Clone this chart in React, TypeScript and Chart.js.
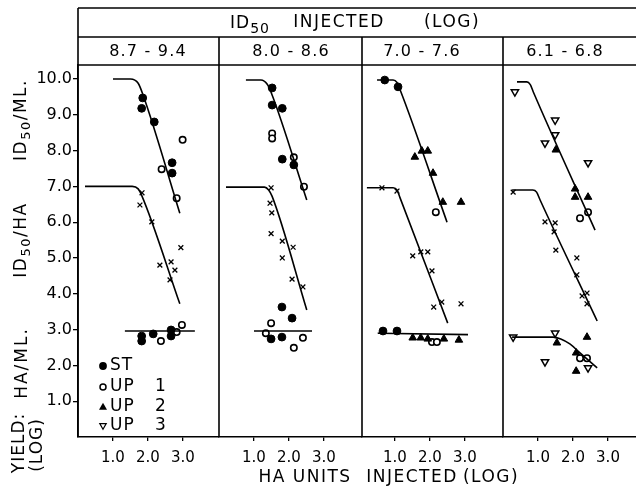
import React, { useEffect, useRef } from 'react';
import { Chart, registerables } from 'chart.js';

Chart.register(...registerables);

// ---------- labels ----------
const headerWords = ['INJECTED', '(LOG)'];
const panelRanges = ['8.7 - 9.4', '8.0 - 8.6', '7.0 - 7.6', '6.1 - 6.8'];
const xTickValues = [1, 2, 3];
const yTickValues = [1, 2, 3, 4, 5, 6, 7, 8, 9, 10];
const legendLabels = ['ST', 'UP 1', 'UP 2', 'UP 3'];

// ---------- panel 1 (8.7 - 9.4) ----------
const p1FitML = [[1.0, 10.0], [1.5, 10.0], [1.72, 9.88], [1.86, 9.55], [2.91, 6.25]];
const p1FitHA = [[0.2, 7.0], [1.55, 7.0], [1.72, 6.93], [1.82, 6.75], [2.91, 3.72]];
const p1FitYield = [[1.34, 2.96], [3.34, 2.96]];
const p1StML = [[1.85, 9.47], [1.82, 9.18], [2.18, 8.8], [2.69, 7.66], [2.69, 7.37]];
const p1Up1ML = [[2.39, 7.48], [2.82, 6.67], [2.99, 8.3]];
const p1CrossHA = [[1.83, 6.82], [1.77, 6.48], [2.11, 6.01], [2.94, 5.29], [2.34, 4.8], [2.66, 4.89], [2.77, 4.66], [2.63, 4.39]];
const p1StYield = [[1.82, 2.82], [1.82, 2.68], [2.15, 2.88], [2.66, 2.99], [2.66, 2.82]];
const p1Up1Yield = [[2.37, 2.68], [2.82, 2.93], [2.97, 3.13]];

// ---------- panel 2 (8.0 - 8.6) ----------
const p2FitML = [[0.77, 9.97], [1.2, 9.97], [1.38, 9.85], [1.5, 9.6], [2.51, 6.62]];
const p2FitHA = [[0.2, 6.98], [1.3, 6.98], [1.42, 6.9], [1.52, 6.72], [2.51, 3.55]];
const p2FitYield = [[1.0, 2.96], [2.66, 2.96]];
const p2StML = [[1.52, 9.75], [1.52, 9.27], [1.81, 9.18], [1.81, 7.76], [2.14, 7.6]];
const p2Up1ML = [[1.52, 8.48], [1.52, 8.34], [2.14, 7.81], [2.43, 6.99]];
const p2CrossHA = [[1.49, 6.96], [1.46, 6.53], [1.51, 6.26], [1.49, 5.68], [1.81, 5.47], [2.12, 5.3], [1.81, 5.0], [2.09, 4.41], [2.4, 4.19]];
const p2StYield = [[1.49, 2.74], [1.8, 3.63], [1.8, 2.79], [2.09, 3.32]];
const p2Up1Yield = [[1.49, 3.18], [1.34, 2.9], [2.14, 2.49], [2.4, 2.77]];

// ---------- panel 3 (7.0 - 7.6) ----------
const p3FitML = [[0.49, 9.97], [0.95, 9.97], [1.06, 9.9], [1.14, 9.72], [2.49, 6.0]];
const p3FitHA = [[0.2, 6.96], [0.95, 6.96], [1.06, 6.9], [1.14, 6.7], [2.51, 3.18]];
const p3FitYield = [[0.51, 2.9], [3.09, 2.86]];
const p3StML = [[0.71, 9.97], [1.09, 9.78]];
const p3Up2ML = [[1.57, 7.82], [1.77, 7.99], [1.94, 7.99], [2.09, 7.37], [2.37, 6.56], [2.89, 6.56]];
const p3Up1ML = [[2.17, 6.28]];
const p3CrossHA = [[0.63, 6.96], [1.06, 6.87], [1.51, 5.06], [1.74, 5.17], [1.94, 5.17], [2.06, 4.64], [2.11, 3.63], [2.34, 3.77], [2.89, 3.72]];
const p3StYield = [[0.66, 2.96], [1.06, 2.96]];
const p3Up2Yield = [[1.51, 2.77], [1.74, 2.77], [1.94, 2.74], [2.4, 2.74], [2.83, 2.71]];
const p3Up1Yield = [[2.06, 2.65], [2.2, 2.65]];

// ---------- panel 4 (6.1 - 6.8) ----------
const p4FitML = [[0.4, 9.92], [0.68, 9.92], [0.78, 9.84], [0.86, 9.65], [2.63, 5.78]];
const p4FitHA = [[0.26, 6.9], [0.85, 6.9], [0.96, 6.84], [1.06, 6.62], [2.69, 3.24]];
const p4FitYield = [[0.26, 2.79], [1.43, 2.79], [1.65, 2.74], [1.91, 2.6], [2.2, 2.35], [2.69, 1.93]];
const p4Up3ML = [[0.34, 9.64], [1.49, 8.85], [1.49, 8.44], [1.2, 8.21], [2.43, 7.66]];
const p4Up2ML = [[1.51, 8.02], [2.06, 6.93], [2.06, 6.7], [2.43, 6.7]];
const p4Up1ML = [[2.43, 6.28], [2.2, 6.11]];
const p4CrossHA = [[0.29, 6.84], [1.2, 6.01], [1.49, 5.98], [1.46, 5.73], [1.51, 5.22], [2.11, 5.0], [2.11, 4.53], [2.26, 3.94], [2.4, 4.02], [2.4, 3.72]];
const p4Up3Yield = [[0.29, 2.79], [1.2, 2.1], [2.43, 1.93], [1.49, 2.9]];
const p4Up2Yield = [[1.54, 2.63], [2.09, 2.35], [2.4, 2.79], [2.09, 1.84]];
const p4Up1Yield = [[2.2, 2.2], [2.4, 2.2]];

// ---------- panel x-scale extents ----------
const panelWeights = [141, 143, 141, 133];
const panelMin = [0, 0, 0.06, 0];
const panelMax = [4.03, 4.09, 4.09, 3.8];

const FONT = '"DejaVu Sans", sans-serif';

const styles: Record<string, any> = {
  st: { pointStyle: 'circle', pointRadius: 3.9, pointBackgroundColor: '#000', pointBorderColor: '#000', pointBorderWidth: 1 },
  up1: { pointStyle: 'circle', pointRadius: 3.2, pointBackgroundColor: '#fff', pointBorderColor: '#000', pointBorderWidth: 1.6 },
  up2: { pointStyle: 'triangle', pointRadius: 4.4, pointBackgroundColor: '#000', pointBorderColor: '#000', pointBorderWidth: 1 },
  up3: { pointStyle: 'triangle', pointRotation: 180, pointRadius: 4.2, pointBackgroundColor: '#fff', pointBorderColor: '#000', pointBorderWidth: 1.5 },
  cross: { pointStyle: 'crossRot', pointRadius: 3.4, pointBackgroundColor: '#000', pointBorderColor: '#000', pointBorderWidth: 1.3 },
};

const toXY = (arr: number[][]) => arr.map(([x, y]) => ({ x, y }));

function markers(arr: number[][], kind: string, axis: string) {
  return { data: toXY(arr), xAxisID: axis, yAxisID: 'y', showLine: false, ...styles[kind] };
}
function fit(arr: number[][], axis: string) {
  return {
    data: toXY(arr), xAxisID: axis, yAxisID: 'y', showLine: true, borderColor: '#000', borderWidth: 1.6,
    pointRadius: 0, cubicInterpolationMode: 'monotone', fill: false,
  };
}

function drawRich(ctx: CanvasRenderingContext2D, parts: { t: string; f: string; dy?: number }[], cx: number, cy: number, rotate: boolean, spacing: number) {
  ctx.save();
  ctx.translate(cx, cy);
  if (rotate) ctx.rotate(-Math.PI / 2);
  (ctx as any).letterSpacing = spacing + 'px';
  const widths = parts.map((p) => { ctx.font = p.f; return ctx.measureText(p.t).width; });
  const total = widths.reduce((a, b) => a + b, 0);
  let x = -total / 2;
  ctx.textAlign = 'left';
  ctx.textBaseline = 'middle';
  ctx.fillStyle = '#000';
  parts.forEach((p, i) => { ctx.font = p.f; ctx.fillText(p.t, x, p.dy || 0); x += widths[i]; });
  ctx.restore();
}

function drawMarker(ctx: CanvasRenderingContext2D, kind: string, x: number, y: number) {
  ctx.save();
  ctx.strokeStyle = '#000';
  ctx.fillStyle = '#000';
  ctx.lineWidth = 1.5;
  ctx.beginPath();
  if (kind === 'st') { ctx.arc(x, y, 3.9, 0, Math.PI * 2); ctx.fill(); }
  else if (kind === 'up1') { ctx.arc(x, y, 3.0, 0, Math.PI * 2); ctx.fillStyle = '#fff'; ctx.fill(); ctx.stroke(); }
  else if (kind === 'up2') { ctx.moveTo(x, y - 4.2); ctx.lineTo(x + 4, y + 2.8); ctx.lineTo(x - 4, y + 2.8); ctx.closePath(); ctx.fill(); }
  else { ctx.moveTo(x, y + 3.2); ctx.lineTo(x + 3.2, y - 2.4); ctx.lineTo(x - 3.2, y - 2.4); ctx.closePath(); ctx.fillStyle = '#fff'; ctx.fill(); ctx.lineWidth = 1.2; ctx.stroke(); }
  ctx.restore();
}

const decorPlugin = {
  id: 'decor',
  afterDraw(chart: any) {
    const ctx: CanvasRenderingContext2D = chart.ctx;
    const ca = chart.chartArea;
    ctx.save();
    ctx.strokeStyle = '#000';
    ctx.lineWidth = 1.6;
    const line = (x1: number, y1: number, x2: number, y2: number) => { ctx.beginPath(); ctx.moveTo(x1, y1); ctx.lineTo(x2, y2); ctx.stroke(); };
    line(ca.left, 8, ca.right, 8);
    line(ca.left, 37, ca.right, 37);
    line(ca.left, ca.top, ca.right, ca.top);
    line(ca.left, 8, ca.left, ca.bottom);
    ['x0', 'x1', 'x2'].forEach((id) => { const s = chart.scales[id]; line(s.right, 37, s.right, ca.bottom); });

    // header
    drawRich(ctx, [{ t: 'ID', f: `17px ${FONT}` }, { t: '50', f: `14px ${FONT}`, dy: 5 }], 250, 24, false, 1);
    drawRich(ctx, [{ t: headerWords[0], f: `17px ${FONT}` }], 339, 23, false, 1.5);
    drawRich(ctx, [{ t: headerWords[1], f: `17px ${FONT}` }], 452, 23, false, 1.5);

    // panel range labels
    const centers = [148, 291, 422, 565];
    panelRanges.forEach((t, i) => drawRich(ctx, [{ t, f: `16px ${FONT}` }], centers[i], 52, false, 1.2));

    // x title
    drawRich(ctx, [{ t: 'HA UNITS', f: `17px ${FONT}` }], 305, 478, false, 1.5);
    drawRich(ctx, [{ t: 'INJECTED', f: `17px ${FONT}` }], 412, 478, false, 1.5);
    drawRich(ctx, [{ t: '(LOG)', f: `17px ${FONT}` }], 491, 478, false, 1.5);

    // y titles (rotated)
    drawRich(ctx, [{ t: 'ID', f: `17px ${FONT}` }, { t: '50', f: `13px ${FONT}`, dy: 5 }, { t: '/ML.', f: `17px ${FONT}` }], 22, 120, true, 1.5);
    drawRich(ctx, [{ t: 'ID', f: `17px ${FONT}` }, { t: '50', f: `13px ${FONT}`, dy: 5 }, { t: '/HA', f: `17px ${FONT}` }], 22, 240, true, 1.5);
    drawRich(ctx, [{ t: 'HA/ML.', f: `17px ${FONT}` }], 23, 363, true, 2);
    drawRich(ctx, [{ t: 'YIELD:', f: `17px ${FONT}` }], 20, 443, true, 1);
    drawRich(ctx, [{ t: '(LOG)', f: `17px ${FONT}` }], 38, 445, true, 1);

    // legend
    const kinds = ['st', 'up1', 'up2', 'up3'];
    const ly = [366, 387, 407, 426];
    legendLabels.forEach((lab, i) => {
      drawMarker(ctx, kinds[i], 103, ly[i]);
      const parts = lab.split(' ');
      ctx.save();
      (ctx as any).letterSpacing = '1px';
      ctx.font = `17px ${FONT}`;
      ctx.fillStyle = '#000';
      ctx.textAlign = 'left';
      ctx.textBaseline = 'middle';
      ctx.fillText(parts[0], 110, ly[i]);
      if (parts[1]) { ctx.textAlign = 'center'; ctx.fillText(parts[1], 161, ly[i]); }
      ctx.restore();
    });
    ctx.restore();
  },
};

export default function App() {
  const ref = useRef<HTMLCanvasElement | null>(null);
  useEffect(() => {
    if (!ref.current) return;
    const datasets: any[] = [
      fit(p1FitML, 'x0'), fit(p1FitHA, 'x0'), fit(p1FitYield, 'x0'),
      markers(p1StML, 'st', 'x0'), markers(p1Up1ML, 'up1', 'x0'), markers(p1CrossHA, 'cross', 'x0'),
      markers(p1StYield, 'st', 'x0'), markers(p1Up1Yield, 'up1', 'x0'),

      fit(p2FitML, 'x1'), fit(p2FitHA, 'x1'), fit(p2FitYield, 'x1'),
      markers(p2StML, 'st', 'x1'), markers(p2Up1ML, 'up1', 'x1'), markers(p2CrossHA, 'cross', 'x1'),
      markers(p2StYield, 'st', 'x1'), markers(p2Up1Yield, 'up1', 'x1'),

      fit(p3FitML, 'x2'), fit(p3FitHA, 'x2'), fit(p3FitYield, 'x2'),
      markers(p3StML, 'st', 'x2'), markers(p3Up2ML, 'up2', 'x2'), markers(p3Up1ML, 'up1', 'x2'), markers(p3CrossHA, 'cross', 'x2'),
      markers(p3StYield, 'st', 'x2'), markers(p3Up2Yield, 'up2', 'x2'), markers(p3Up1Yield, 'up1', 'x2'),

      fit(p4FitML, 'x3'), fit(p4FitHA, 'x3'), fit(p4FitYield, 'x3'),
      markers(p4Up3ML, 'up3', 'x3'), markers(p4Up2ML, 'up2', 'x3'), markers(p4Up1ML, 'up1', 'x3'), markers(p4CrossHA, 'cross', 'x3'),
      markers(p4Up3Yield, 'up3', 'x3'), markers(p4Up2Yield, 'up2', 'x3'), markers(p4Up1Yield, 'up1', 'x3'),
    ];

    const scales: any = {
      y: {
        type: 'linear', position: 'left', min: 0, max: 10.39,
        afterBuildTicks: (s: any) => { s.ticks = yTickValues.map((v) => ({ value: v })); },
        afterFit: (s: any) => { s.width = 78; s.paddingTop = 0; s.paddingBottom = 0; },
        ticks: { color: '#000', font: { family: FONT, size: 16 }, padding: 1, callback: (v: any) => Number(v).toFixed(1) },
        grid: { display: true, drawOnChartArea: false, drawTicks: true, tickLength: 5, color: '#000', lineWidth: 1.3 },
        border: { display: true, color: '#000', width: 1.6 },
      },
    };
    panelWeights.forEach((w, i) => {
      scales['x' + i] = {
        type: 'linear', position: 'bottom', stack: 'panels', stackWeight: w,
        min: panelMin[i], max: panelMax[i],
        afterBuildTicks: (s: any) => { s.ticks = xTickValues.map((v) => ({ value: v })); },
        afterFit: (s: any) => { s.height = 56; s.paddingLeft = 0; s.paddingRight = 0; },
        ticks: { color: '#000', font: { family: FONT, size: 15 }, padding: 8, maxRotation: 0, callback: (v: any) => Number(v).toFixed(1) },
        grid: { display: true, drawOnChartArea: false, drawTicks: true, tickLength: 4, color: '#000', lineWidth: 1.3 },
        border: { display: true, color: '#000', width: 1.6 },
      };
    });

    const chart = new Chart(ref.current, {
      type: 'scatter',
      data: { datasets },
      options: {
        responsive: false,
        animation: false,
        devicePixelRatio: 1,
        layout: { autoPadding: false, padding: { top: 65, right: 0, bottom: 0, left: 0 } },
        plugins: { legend: { display: false }, tooltip: { enabled: false } },
        scales,
      },
      plugins: [decorPlugin],
    } as any);
    return () => chart.destroy();
  }, []);

  return (
    <div style={{ position: 'absolute', left: 0, top: 0, width: 636, height: 493, background: '#fff' }}>
      <canvas ref={ref} width={636} height={493} style={{ display: 'block' }} />
    </div>
  );
}
